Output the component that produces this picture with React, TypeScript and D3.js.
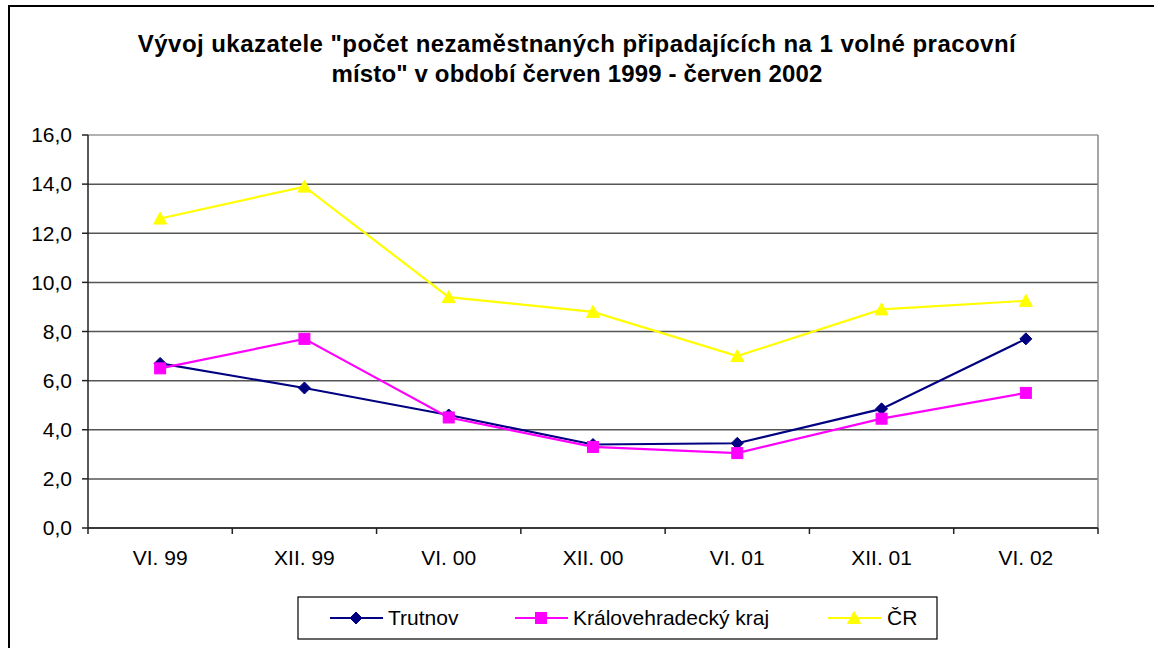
import React from "react";
import * as d3 from "d3";

const categories = ["VI. 99", "XII. 99", "VI. 00", "XII. 00", "VI. 01", "XII. 01", "VI. 02"];
const trutnov = [6.7, 5.7, 4.6, 3.4, 3.45, 4.85, 7.7];
const kraj = [6.5, 7.7, 4.5, 3.3, 3.05, 4.45, 5.5];
const cr = [12.6, 13.9, 9.4, 8.8, 7.0, 8.9, 9.25];
const yTicks = [0, 2, 4, 6, 8, 10, 12, 14, 16];
const titleLines = [
  "Vývoj ukazatele \"počet nezaměstnaných připadajících na 1 volné pracovní",
  "místo\" v období červen 1999 - červen 2002",
];

const series = [
  { name: "Trutnov", values: trutnov, color: "#000080", marker: "diamond" },
  { name: "Královehradecký kraj", values: kraj, color: "#FF00FF", marker: "square" },
  { name: "ČR", values: cr, color: "#FFFF00", marker: "triangle" },
];

const W = 1154;
const H = 648;
const plot = { left: 88, right: 1098, top: 135, bottom: 528 };
const FONT = "Arial, 'Liberation Sans', sans-serif";

function Marker({ type, x, y, color }: { type: string; x: number; y: number; color: string }) {
  if (type === "diamond") {
    const s = 6;
    return <path d={`M${x},${y - s}L${x + s},${y}L${x},${y + s}L${x - s},${y}Z`} fill={color} stroke={color} strokeWidth={1} />;
  }
  if (type === "square") {
    const s = 5.5;
    return <rect x={x - s} y={y - s} width={2 * s} height={2 * s} fill={color} stroke={color} strokeWidth={1} />;
  }
  const s = 6.5;
  return <path d={`M${x},${y - s}L${x + s},${y + s * 0.85}L${x - s},${y + s * 0.85}Z`} fill={color} stroke={color} strokeWidth={1} />;
}

export default function App() {
  const x = d3.scaleBand<string>().domain(categories).range([plot.left, plot.right]);
  const y = d3.scaleLinear().domain([0, 16]).range([plot.bottom, plot.top]);
  const cx = (c: string) => (x(c) as number) + x.bandwidth() / 2;
  const line = d3
    .line<number>()
    .x((_, i) => cx(categories[i]))
    .y((v) => y(v));
  const fmt = (v: number) => v.toFixed(1).replace(".", ",");

  const legendItems = [
    { lx: 330, tx: 388 },
    { lx: 515, tx: 573 },
    { lx: 828, tx: 887 },
  ];
  const legendY = 618;

  return (
    <svg width={W} height={H} style={{ position: "fixed", left: 0, top: 0, background: "#fff" }} fontFamily={FONT}>
      <rect x={0} y={0} width={W} height={H} fill="#fff" />
      <rect x={9} y={6} width={W + 20} height={H + 20} fill="none" stroke="#000" strokeWidth={2} />
      {titleLines.map((t, i) => (
        <text key={i} x={577} y={52 + i * 30} textAnchor="middle" fontSize={24} fontWeight="bold" fill="#000" letterSpacing={i === 0 ? 0.45 : 0.15}>
          {t}
        </text>
      ))}
      {/* gridlines */}
      {yTicks.map((t) => (
        <line key={t} x1={plot.left} x2={plot.right} y1={y(t)} y2={y(t)} stroke={t === 16 ? "#999" : "#555"} strokeWidth={1.5} />
      ))}
      <line x1={plot.right} x2={plot.right} y1={plot.top} y2={plot.bottom} stroke="#888" strokeWidth={1.5} />
      {/* y axis */}
      <line x1={plot.left} x2={plot.left} y1={plot.top} y2={plot.bottom + 6} stroke="#222" strokeWidth={1.5} />
      {yTicks.map((t) => (
        <g key={t}>
          <line x1={plot.left - 6} x2={plot.left} y1={y(t)} y2={y(t)} stroke="#222" strokeWidth={1.5} />
          <text x={72} y={y(t)} dy="0.35em" textAnchor="end" fontSize={21} fill="#000">
            {fmt(t)}
          </text>
        </g>
      ))}
      {/* x axis */}
      <line x1={plot.left} x2={plot.right} y1={plot.bottom} y2={plot.bottom} stroke="#222" strokeWidth={1.5} />
      {categories.map((c, i) => (
        <g key={c}>
          <line x1={(x(c) as number) + x.bandwidth()} x2={(x(c) as number) + x.bandwidth()} y1={plot.bottom} y2={plot.bottom + 6} stroke="#222" strokeWidth={1.5} />
          <text x={cx(c)} y={565} textAnchor="middle" fontSize={21} fill="#000">
            {c}
          </text>
        </g>
      ))}
      {/* series */}
      {series.map((s) => (
        <g key={s.name}>
          <path d={line(s.values) || ""} fill="none" stroke={s.color} strokeWidth={2.2} />
          {s.values.map((v, i) => (
            <Marker key={i} type={s.marker} x={cx(categories[i])} y={y(v)} color={s.color} />
          ))}
        </g>
      ))}
      {/* legend */}
      <rect x={298} y={597} width={639} height={42} fill="#fff" stroke="#000" strokeWidth={1.2} />
      {series.map((s, i) => (
        <g key={s.name}>
          <line x1={legendItems[i].lx} x2={legendItems[i].lx + 53} y1={legendY} y2={legendY} stroke={s.color} strokeWidth={2.2} />
          <Marker type={s.marker} x={legendItems[i].lx + 26} y={legendY} color={s.color} />
          <text x={legendItems[i].tx} y={legendY} dy="0.35em" fontSize={21} fill="#000">
            {s.name}
          </text>
        </g>
      ))}
    </svg>
  );
}
